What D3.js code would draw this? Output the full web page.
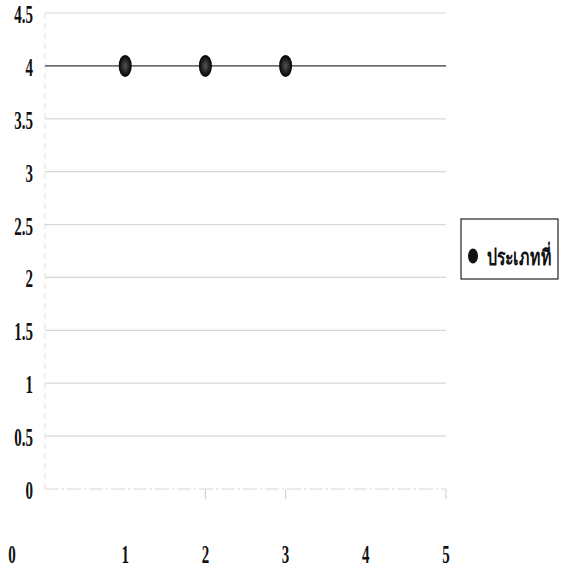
<!DOCTYPE html>
<html><head><meta charset="utf-8">
<script src="https://cdn.jsdelivr.net/npm/d3@7/dist/d3.min.js"></script>
<style>body{margin:0;background:#fff}</style>
</head><body>
<svg id="c" width="561" height="571"></svg>
<script>
const xValues = [1, 2, 3];
const yValues = [4, 4, 4];
const yTicks = [0, 0.5, 1, 1.5, 2, 2.5, 3, 3.5, 4, 4.5];
const yTickLabels = ["0", "0.5", "1", "1.5", "2", "2.5", "3", "3.5", "4", "4.5"];
const xTicks = [0, 1, 2, 3, 4, 5];
const xTickLabels = ["0", "1", "2", "3", "4", "5"];
const seriesName = "ประเภทที่";
const refLine = 4;

const svg = d3.select("#c");
const x = d3.scaleLinear().domain([0, 5]).range([45, 446]);
const y = d3.scaleLinear().domain([0, 4.5]).range([489, 13]);
const font = "'Liberation Serif', serif";

// gridlines
svg.append("g").selectAll("line").data(yTicks).join("line")
  .attr("x1", x(0)).attr("x2", x(5))
  .attr("y1", d => y(d)).attr("y2", d => y(d))
  .attr("stroke", "#d8d8d8").attr("stroke-width", 1.2)
  .attr("stroke-dasharray", d => d === 0 ? "14 3 2 3" : null);

// left axis (faint)
svg.append("line").attr("x1", x(0)).attr("x2", x(0)).attr("y1", y(4.5)).attr("y2", y(0))
  .attr("stroke", "#e0e0e0").attr("stroke-width", 1).attr("stroke-dasharray", "6 4");

// bottom ticks
svg.append("g").selectAll("line").data([2, 3, 5]).join("line")
  .attr("x1", d => x(d)).attr("x2", d => x(d))
  .attr("y1", y(0)).attr("y2", y(0) + 10)
  .attr("stroke", "#d4d4d4").attr("stroke-width", 1.2);

// reference line at 4
svg.append("line").attr("x1", x(0)).attr("x2", x(5))
  .attr("y1", y(refLine)).attr("y2", y(refLine))
  .attr("stroke", "#444").attr("stroke-width", 1.3);

// y labels
svg.append("g").selectAll("text").data(yTicks).join("text")
  .attr("transform", d => `translate(${x(0) - 12},${y(d) + 10}) scale(0.6,1)`)
  .attr("text-anchor", "end")
  .attr("font-family", font).attr("font-weight", "bold").attr("font-size", 25)
  .attr("fill", "#111")
  .text((d, i) => yTickLabels[i]);

// x labels
svg.append("g").selectAll("text").data(xTicks).join("text")
  .attr("transform", d => `translate(${d === 0 ? x(d) - 33 : x(d)},${y(0) + 74}) scale(0.6,1)`)
  .attr("text-anchor", "middle")
  .attr("font-family", font).attr("font-weight", "bold").attr("font-size", 25)
  .attr("fill", "#111")
  .text((d, i) => xTickLabels[i]);

// points
const grad = svg.append("defs").append("radialGradient").attr("id", "g");
grad.append("stop").attr("offset", "0%").attr("stop-color", "#555");
grad.append("stop").attr("offset", "60%").attr("stop-color", "#222");
grad.append("stop").attr("offset", "100%").attr("stop-color", "#000");
svg.append("g").selectAll("ellipse").data(xValues).join("ellipse")
  .attr("cx", d => x(d)).attr("cy", (d, i) => y(yValues[i]))
  .attr("rx", 6.5).attr("ry", 11)
  .attr("fill", "url(#g)");

// legend
const lg = svg.append("g");
lg.append("rect").attr("x", 461).attr("y", 219).attr("width", 97).attr("height", 60)
  .attr("fill", "#fff").attr("stroke", "#222").attr("stroke-width", 1.2);
lg.append("ellipse").attr("cx", 473).attr("cy", 256).attr("rx", 5).attr("ry", 7.5).attr("fill", "#111");
lg.append("text").attr("transform", "translate(487,265) scale(0.72,1)")
  .attr("font-family", "'Noto Sans', sans-serif").attr("font-weight", "bold").attr("font-size", 22)
  .attr("fill", "#111").text(seriesName);
</script>
</body></html>
